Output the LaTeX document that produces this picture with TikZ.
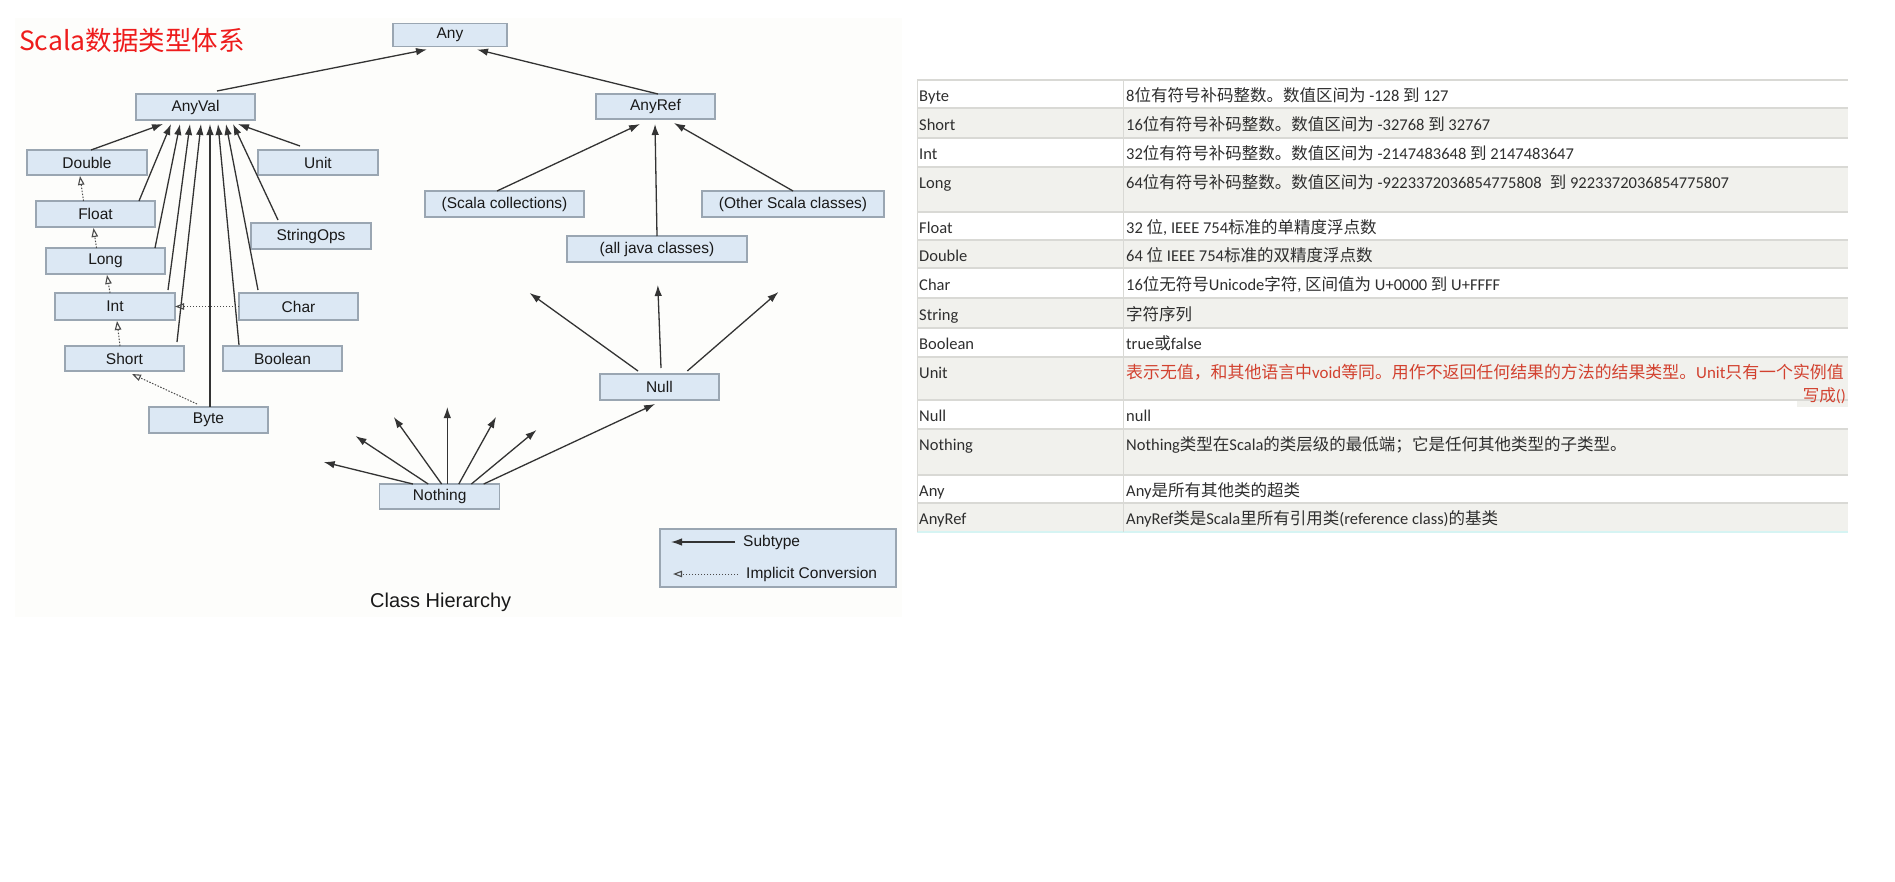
\documentclass[tikz,border=0pt]{standalone}
\usepackage{fontspec}
\setmainfont{Liberation Sans}
\newfontfamily\cjkf{Noto Sans CJK SC}
\newfontfamily\calf{Carlito}
\usetikzlibrary{arrows.meta}
\definecolor{boxfill}{HTML}{DCE8F4}
\definecolor{boxline}{HTML}{9AA6B2}
\definecolor{linec}{HTML}{333333}
\definecolor{convc}{HTML}{4A4A4A}
\definecolor{titlered}{HTML}{EE1C1C}
\definecolor{unitred}{HTML}{D2412F}
\definecolor{rowgray}{HTML}{F1F1ED}
\definecolor{rulec}{HTML}{D9D9D5}
\definecolor{tabtext}{HTML}{2E2E2E}
\definecolor{bgdiag}{HTML}{FDFDFB}
\newcommand\zh[1]{{\cjkf #1}}
\begin{document}
\begin{tikzpicture}[x=1pt,y=-1pt,
  cls/.style={draw=boxline, fill=boxfill, line width=1.2pt, minimum width=119pt,
    minimum height=26pt, inner sep=0pt, outer sep=0pt,
    font=\fontsize{15.5}{18}\selectfont, text=black!90},
  sub/.style={draw=linec, line width=1.3pt, -{Latex[length=11pt,width=7.5pt]}},
  conv/.style={draw=convc, line width=1pt, dash pattern=on 1.5pt off 1.5pt,
    -{Triangle[open,length=9pt,width=6.5pt,line width=1.1pt]}},
  tl/.style={anchor=base west, inner sep=0pt, font=\calf\fontsize{16.5}{19}\selectfont, text=tabtext},
  leg/.style={anchor=west, inner sep=0pt, font=\fontsize{15.5}{18}\selectfont, text=black!90}]
\useasboundingbox (0,0) rectangle (1895,881);
\fill[white] (0,0) rectangle (1895,881);
\fill[bgdiag] (15,18) rectangle (902,617);

% title
\node[anchor=west, inner sep=0pt, text=titlered, font=\cjkf\fontsize{26.5}{30}\selectfont] (title) at (19,40) {Scala数据类型体系};

% class boxes
\node[cls, minimum width=114pt, minimum height=23pt] (any) at (450,35) {Any};
\node[cls] (anyval) at (195.5,107) {AnyVal};
\node[cls, minimum width=120pt, minimum height=25pt] (dbl) at (87,162.5) {Double};
\node[cls, minimum width=120pt, minimum height=25pt] (unit) at (318,162.5) {Unit};
\node[cls] (flt) at (95.5,214) {Float};
\node[cls, minimum width=120pt] (sops) at (311,236) {StringOps};
\node[cls] (lng) at (105.5,261) {Long};
\node[cls, minimum width=120pt, minimum height=27pt] (int) at (115,306.5) {Int};
\node[cls, minimum height=27pt] (char) at (298.5,306.5) {Char};
\node[cls, minimum height=25pt] (short) at (124.5,358.5) {Short};
\node[cls, minimum height=25pt] (bool) at (282.5,358.5) {Boolean};
\node[cls] (byte) at (208.5,420) {Byte};
\node[cls, minimum height=25pt] (anyref) at (655.5,106.5) {AnyRef};
\node[cls, minimum width=159pt] (scoll) at (504.5,204) {(Scala collections)};
\node[cls, minimum width=182pt] (other) at (793,204) {(Other Scala classes)};
\node[cls, minimum width=180pt] (java) at (657,249) {(all java classes)};
\node[cls, minimum width=119pt] (null) at (659.4,387) {Null};
\node[cls, minimum width=120pt, minimum height=25pt] (nothing) at (439.7,496.5) {Nothing};

% subtypes of AnyVal
\draw[sub] ([xshift=4pt]dbl.north) -- ([xshift=-32.5pt,yshift=-4pt]anyval.south);
\draw[sub] ([xshift=-16pt]flt.north east) -- ([xshift=-24.5pt,yshift=-4pt]anyval.south);
\draw[sub] ([xshift=-10pt]lng.north east) -- ([xshift=-15.5pt,yshift=-4pt]anyval.south);
\draw[sub] ([xshift=-7pt,yshift=3pt]int.north east) -- ([xshift=-5.5pt,yshift=-4pt]anyval.south);
\draw[sub] ([xshift=-7pt,yshift=4pt]short.north east) -- ([xshift=5.5pt,yshift=-4pt]anyval.south);
\draw[sub] ([xshift=1.5pt]byte.north) -- ([xshift=14.5pt,yshift=-4pt]anyval.south);
\draw[sub] ([xshift=16pt,yshift=1pt]bool.north west) -- ([xshift=22.5pt,yshift=-4pt]anyval.south);
\draw[sub] ([xshift=19pt,yshift=3pt]char.north west) -- ([xshift=30.5pt,yshift=-4pt]anyval.south);
\draw[sub] ([xshift=27pt,yshift=3pt]sops.north west) -- ([xshift=37.5pt,yshift=-4pt]anyval.south);
\draw[sub] ([xshift=-18pt,yshift=4pt]unit.north) -- ([xshift=42.5pt,yshift=-4pt]anyval.south);

% implicit conversions
\draw[conv] ([xshift=-12pt]flt.north) -- ([xshift=-7pt,yshift=-1pt]dbl.south);
\draw[conv] ([xshift=-9pt]lng.north) -- ([xshift=-2pt,yshift=-1pt]flt.south);
\draw[conv] ([xshift=-5pt]int.north) -- ([xshift=1.5pt,yshift=-1pt]lng.south);
\draw[conv] ([xshift=-4.5pt]short.north) -- ([xshift=2pt,yshift=-1pt]int.south);
\draw[conv] ([xshift=-11.5pt,yshift=3pt]byte.north) -- ([xshift=7.5pt,yshift=-3pt]short.south);
\draw[conv] (char.west) -- (int.east);

% to Any
\draw[sub] ([xshift=21.5pt,yshift=3pt]anyval.north) -- ([xshift=-23pt,yshift=-3pt]any.south);
\draw[sub] ([xshift=2.5pt]anyref.north) -- ([xshift=27pt,yshift=-3pt]any.south);

% to AnyRef
\draw[sub] ([xshift=-7.5pt]scoll.north) -- ([xshift=-15.5pt,yshift=-5pt]anyref.south);
\draw[sub] (java.north) -- ([xshift=-0.5pt,yshift=-5pt]anyref.south);
\draw[sub] (other.north) -- ([xshift=18.5pt,yshift=-4pt]anyref.south);

% Null
\coordinate (n1) at (529.6,293);
\coordinate (n2) at (657.8,285);
\coordinate (n3) at (778.4,292);
\draw[sub] ([xshift=-21.4pt,yshift=3pt]null.north) -- (n1);
\draw[sub] ([xshift=1.6pt,yshift=6pt]null.north) -- (n2);
\draw[sub] ([xshift=27.9pt,yshift=3pt]null.north) -- (n3);

% Nothing
\coordinate (m1) at (323.7,462);
\coordinate (m2) at (355.5,436);
\coordinate (m3) at (393.8,417);
\coordinate (m4) at (447.3,407);
\coordinate (m5) at (496,417);
\coordinate (m6) at (536.5,430);
\draw[sub] ([xshift=-26.8pt]nothing.north) -- (m1);
\draw[sub] ([xshift=-11.5pt]nothing.north) -- (m2);
\draw[sub] ([xshift=1.9pt]nothing.north) -- (m3);
\draw[sub] ([xshift=7.6pt]nothing.north) -- (m4);
\draw[sub] ([xshift=19.1pt]nothing.north) -- (m5);
\draw[sub] ([xshift=31.7pt]nothing.north) -- (m6);
\draw[sub] ([xshift=44pt]nothing.north) -- ([xshift=-4.3pt,yshift=-4pt]null.south);

% legend
\node[cls, minimum width=236pt, minimum height=58pt] (legend) at (778,558) {};
\coordinate (ls1) at (735,542);
\coordinate (ls2) at (671,542);
\coordinate (lc1) at (738,574);
\coordinate (lc2) at (673,574);
\draw[sub] (ls1) -- (ls2);
\draw[conv] (lc1) -- (lc2);
\node[leg] (lsub) at (743,542) {Subtype};
\node[leg] (lconv) at (746,574) {Implicit Conversion};

% caption
\node[inner sep=0pt, font=\fontsize{20}{23}\selectfont, text=black!90] (caption) at (440.7,602) {Class Hierarchy};

% table
\foreach \a/\b in {108/138,167/212,240/268,298/328,357/400,429/475,503/532}
  \fill[rowgray] (917,\a) rectangle (1848,\b);
\fill[rowgray] (1797,382) rectangle (1848,407);
\foreach \y in {80,108,138,167,212,240,268,298,328,357,400,429,475,503}
  \draw[rulec, line width=1.2pt] (917,\y) -- (1848,\y);
\draw[rulec!70!cyan!40!white, line width=1.2pt] (917,532) -- (1848,532);
\draw[rulec, line width=1pt] (917,80) -- (917,532);
\draw[rulec, line width=1pt] (1123,80) -- (1123,532);

\node[tl] (k1) at (919,101) {Byte};
\node[tl] (k2) at (919,130) {Short};
\node[tl] (k3) at (919,159) {Int};
\node[tl] (k4) at (919,188) {Long};
\node[tl] (k5) at (919,233) {Float};
\node[tl] (k6) at (919,261) {Double};
\node[tl] (k7) at (919,290) {Char};
\node[tl] (k8) at (919,320) {String};
\node[tl] (k9) at (919,349) {Boolean};
\node[tl] (k10) at (919,378) {Unit};
\node[tl] (k11) at (919,421) {Null};
\node[tl] (k12) at (919,450) {Nothing};
\node[tl] (k13) at (919,496) {Any};
\node[tl] (k14) at (919,524) {AnyRef};

\node[tl] (v1) at (1126,101) {8\zh{位有符号补码整数。数值区间为} -128 \zh{到} 127};
\node[tl] (v2) at (1126,130) {16\zh{位有符号补码整数。数值区间为} -32768 \zh{到} 32767};
\node[tl] (v3) at (1126,159) {32\zh{位有符号补码整数。数值区间为} -2147483648 \zh{到} 2147483647};
\node[tl] (v4) at (1126,188) {64\zh{位有符号补码整数。数值区间为} -9223372036854775808\enspace\zh{到} 9223372036854775807};
\node[tl] (v5) at (1126,233) {32 \zh{位}, IEEE 754\zh{标准的单精度浮点数}};
\node[tl] (v6) at (1126,261) {64 \zh{位} IEEE 754\zh{标准的双精度浮点数}};
\node[tl] (v7) at (1126,290) {16\zh{位无符号}Unicode\zh{字符}, \zh{区间值为} U+0000 \zh{到} U+FFFF};
\node[tl] (v8) at (1126,320) {\zh{字符序列}};
\node[tl] (v9) at (1126,349) {true\zh{或}false};
\node[tl, text=unitred, font=\calf\fontsize{16.9}{19}\selectfont] (v10) at (1126,378) {\zh{表示无值，和其他语言中}void\zh{等同。用作不返回任何结果的方法的结果类型。}Unit\zh{只有一个实例值}};
\node[tl, anchor=base east, text=unitred] (v10b) at (1846,401) {\zh{写成}()};
\node[tl] (v11) at (1126,421) {null};
\node[tl] (v12) at (1126,450) {Nothing\zh{类型在}Scala\zh{的类层级的最低端；它是任何其他类型的子类型。}};
\node[tl] (v13) at (1126,496) {Any\zh{是所有其他类的超类}};
\node[tl] (v14) at (1126,524) {AnyRef\zh{类是}Scala\zh{里所有引用类}(reference class)\zh{的基类}};
\end{tikzpicture}
\end{document}
